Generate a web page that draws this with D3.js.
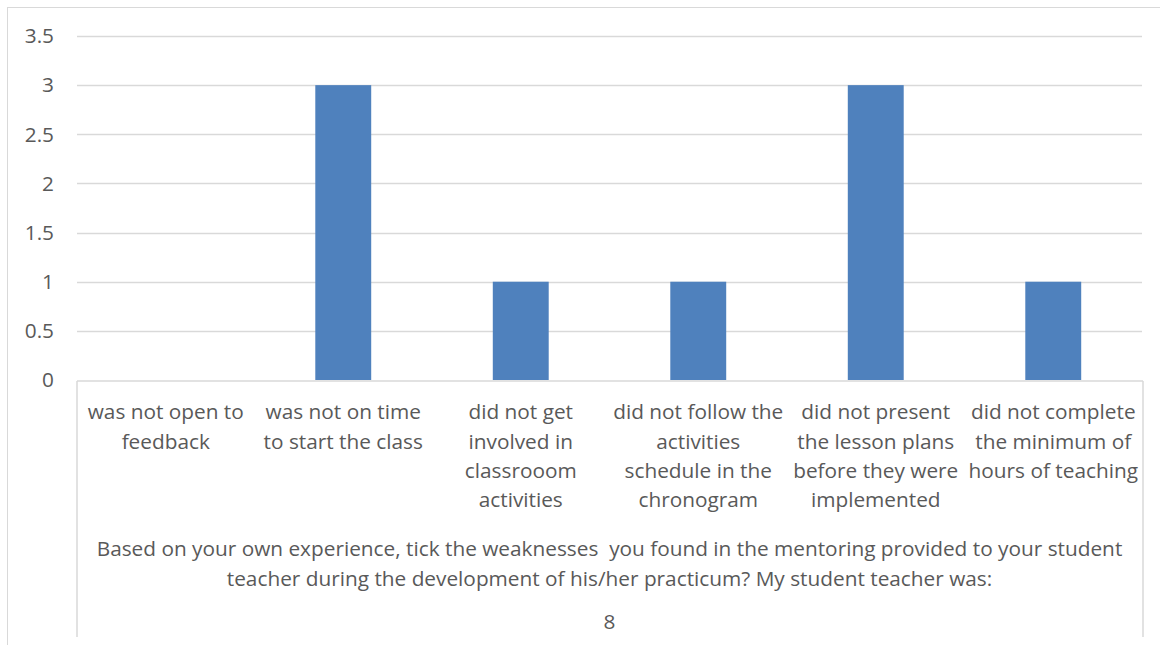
<!DOCTYPE html>
<html>
<head>
<meta charset="utf-8">
<script src="https://cdn.jsdelivr.net/npm/d3@7"></script>
<style>
  body { margin: 0; background: #fff; }
  text { font-family: "Open Sans", Lato, sans-serif; fill: #595959; white-space: pre; }
</style>
</head>
<body>
<div id="chart"></div>
<script>
// data
var categories = [
  ["was not open to", "feedback"],
  ["was not on time", "to start the class"],
  ["did not get", "involved in", "classrooom", "activities"],
  ["did not follow the", "activities", "schedule in the", "chronogram"],
  ["did not present", "the lesson plans", "before they were", "implemented"],
  ["did not complete", "the minimum of", "hours of teaching"]
];
var values = [0, 3, 1, 1, 3, 1];
var yTicks = [0, 0.5, 1, 1.5, 2, 2.5, 3, 3.5];
var groupTitle = ["Based on your own experience, tick the weaknesses  you found in the mentoring provided to your student",
                  "teacher during the development of his/her practicum? My student teacher was:"];
var groupLabel = "8";

var width = 1160, height = 645,
    margin = {top: 36, left: 77, right: 18, bottom: 265},
    plotRight = width - margin.right,
    plotBottom = height - margin.bottom,
    fontSize = "20.8px";

var svg = d3.select("#chart").append("svg")
  .attr("width", width)
  .attr("height", height);

// chart frame
svg.append("rect")
  .attr("x", 7.5).attr("y", 7.5)
  .attr("width", width + 20).attr("height", height + 20)
  .attr("fill", "none").attr("stroke", "#d9d9d9");

var xScale = d3.scaleBand()
  .domain(d3.range(categories.length))
  .range([margin.left, plotRight])
  .paddingInner(0.685).paddingOuter(0.3425);

var yScale = d3.scaleLinear()
  .domain([0, 3.5])
  .range([plotBottom, margin.top]);

// gridlines
svg.append("g").selectAll("line")
  .data(yTicks.filter(function(d) { return d > 0; }))
  .enter().append("line")
  .attr("x1", margin.left).attr("x2", plotRight)
  .attr("y1", function(d) { return Math.round(yScale(d)) + 0.5; })
  .attr("y2", function(d) { return Math.round(yScale(d)) + 0.5; })
  .attr("stroke", "#d9d9d9").attr("stroke-width", 1.5);

// y tick labels
svg.append("g").selectAll("text")
  .data(yTicks)
  .enter().append("text")
  .attr("x", 54)
  .attr("y", function(d) { return yScale(d); })
  .attr("dy", "0.35em")
  .attr("text-anchor", "end")
  .style("font-size", fontSize)
  .text(function(d) { return d; });

// bars
svg.append("g").selectAll("rect")
  .data(values)
  .enter().append("rect")
  .attr("x", function(d, i) { return xScale(i); })
  .attr("width", xScale.bandwidth())
  .attr("y", function(d) { return yScale(d); })
  .attr("height", function(d) { return plotBottom - yScale(d); })
  .attr("fill", "#4f81bd");

// category axis box
var box = svg.append("g").attr("fill", "none").attr("stroke", "#d9d9d9").attr("stroke-width", 1.5);
box.append("line")
  .attr("x1", margin.left).attr("x2", plotRight + 1)
  .attr("y1", plotBottom + 1).attr("y2", plotBottom + 1);
box.append("line")
  .attr("x1", margin.left).attr("x2", margin.left)
  .attr("y1", plotBottom + 1).attr("y2", 637);
box.append("line")
  .attr("x1", plotRight + 1).attr("x2", plotRight + 1)
  .attr("y1", plotBottom + 1).attr("y2", 637);

// category labels
var lineH = 29.3;
svg.append("g").selectAll("text")
  .data(categories)
  .enter().append("text")
  .attr("text-anchor", "middle")
  .style("font-size", fontSize)
  .each(function(lines, i) {
    var t = d3.select(this);
    lines.forEach(function(s, j) {
      t.append("tspan")
        .attr("x", xScale(i) + xScale.bandwidth() / 2)
        .attr("y", 412 + j * lineH)
        .attr("dy", "0.35em")
        .text(s);
    });
  });

// group title and label
var cx = (margin.left + plotRight) / 2;
svg.append("g").selectAll("text")
  .data(groupTitle)
  .enter().append("text")
  .attr("x", cx)
  .attr("y", function(d, i) { return 549 + i * lineH; })
  .attr("dy", "0.35em")
  .attr("text-anchor", "middle")
  .style("font-size", fontSize)
  .text(function(d) { return d; });

svg.append("text")
  .attr("x", cx)
  .attr("y", 622)
  .attr("dy", "0.35em")
  .attr("text-anchor", "middle")
  .style("font-size", fontSize)
  .text(groupLabel);
</script>
</body>
</html>
